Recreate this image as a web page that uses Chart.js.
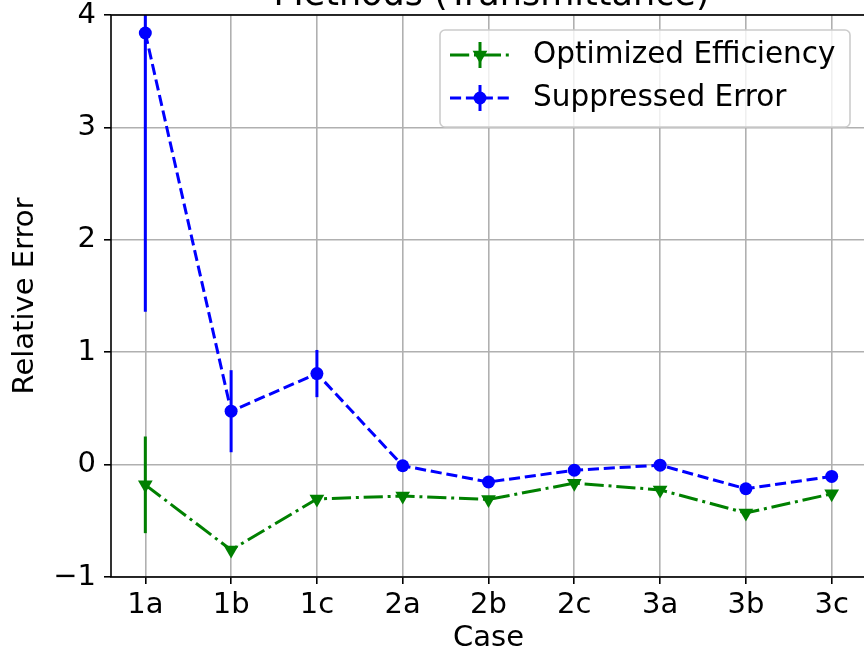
<!DOCTYPE html>
<html><head><meta charset="utf-8">
<script src="https://cdn.jsdelivr.net/npm/chart.js@4.4.1/dist/chart.umd.min.js"></script>
<style>
html,body{margin:0;padding:0;background:#fff;overflow:hidden;width:864px;height:652px;}
#wrap{position:absolute;left:0;top:-40px;width:900px;height:700px;}
canvas{display:block;}
</style></head><body>
<div id="wrap"><canvas id="c" width="900" height="700"></canvas></div>
<script>
const titleText = 'Methods (Transmittance)';
const xLabel = 'Case';
const yLabel = 'Relative Error';
const categories = ['1a','1b','1c','2a','2b','2c','3a','3b','3c'];
const optimizedEfficiency = [-0.18, -0.76, -0.305, -0.28, -0.31, -0.165, -0.225, -0.43, -0.26];
const optimizedErr = [0.43, 0, 0, 0, 0, 0, 0, 0, 0];
const suppressedError = [3.84, 0.475, 0.81, -0.01, -0.155, -0.05, -0.005, -0.215, -0.105];
const suppressedErr = [2.48, 0.365, 0.21, 0, 0, 0, 0, 0, 0];
const yTicks = [-1, 0, 1, 2, 3, 4];
const seriesNames = ['Optimized Efficiency', 'Suppressed Error'];

const FONT = '"DejaVu Sans", sans-serif';
const GREEN = '#008000', BLUE = '#0000ff';
const DASHDOT = [19.2, 4.8, 3, 4.8], DASHED = [11.1, 4.8];

const overlay = {
  id: 'overlay',
  beforeDatasetsDraw(chart) {
    const ctx = chart.ctx, a = chart.chartArea;
    const xs = chart.scales.x, ys = chart.scales.y;
    ctx.save();
    ctx.beginPath(); ctx.rect(a.left, a.top, a.right - a.left, a.bottom - a.top); ctx.clip();
    chart.data.datasets.forEach(ds => {
      ctx.strokeStyle = ds.borderColor; ctx.lineWidth = 3; ctx.setLineDash([]);
      ds.data.forEach((p, j) => {
        const e = ds.err[j];
        if (!e) return;
        const x = xs.getPixelForValue(p.x);
        ctx.beginPath();
        ctx.moveTo(x, ys.getPixelForValue(p.y - e));
        ctx.lineTo(x, ys.getPixelForValue(p.y + e));
        ctx.stroke();
      });
    });
    ctx.restore();
  },
  afterDraw(chart) {
    const ctx = chart.ctx, a = chart.chartArea;
    ctx.save();
    // frame
    ctx.strokeStyle = '#000'; ctx.lineWidth = 1.6; ctx.setLineDash([]);
    ctx.strokeRect(a.left, a.top, a.right - a.left, a.bottom - a.top);
    // title
    ctx.fillStyle = '#000'; ctx.font = '35px ' + FONT; ctx.textAlign = 'center'; ctx.textBaseline = 'alphabetic';
    ctx.fillText(titleText, (a.left + a.right) / 2 + 3, 45);
    // legend
    const bx = 440, by = 70, bw = 410, bh = 97, r = 5;
    ctx.fillStyle = 'rgba(255,255,255,0.8)'; ctx.strokeStyle = '#cccccc'; ctx.lineWidth = 1.6;
    ctx.beginPath();
    ctx.moveTo(bx + r, by); ctx.lineTo(bx + bw - r, by); ctx.arcTo(bx + bw, by, bx + bw, by + r, r);
    ctx.lineTo(bx + bw, by + bh - r); ctx.arcTo(bx + bw, by + bh, bx + bw - r, by + bh, r);
    ctx.lineTo(bx + r, by + bh); ctx.arcTo(bx, by + bh, bx, by + bh - r, r);
    ctx.lineTo(bx, by + r); ctx.arcTo(bx, by, bx + r, by, r); ctx.closePath();
    ctx.fill(); ctx.stroke();
    const rows = [
      {name: seriesNames[0], color: GREEN, dash: DASHDOT, marker: 'tri', y: 95},
      {name: seriesNames[1], color: BLUE, dash: DASHED, marker: 'circ', y: 138}
    ];
    rows.forEach(rw => {
      ctx.strokeStyle = rw.color; ctx.fillStyle = rw.color; ctx.lineWidth = 3;
      ctx.setLineDash(rw.dash);
      ctx.beginPath(); ctx.moveTo(450, rw.y); ctx.lineTo(510, rw.y); ctx.stroke();
      ctx.setLineDash([]);
      ctx.beginPath(); ctx.moveTo(480, rw.y - 13); ctx.lineTo(480, rw.y + 13); ctx.stroke();
      ctx.beginPath();
      if (rw.marker === 'circ') { ctx.arc(480, rw.y, 6.5, 0, Math.PI * 2); }
      else { const R = 8.5; ctx.moveTo(480, rw.y + R); ctx.lineTo(480 - R * 0.866, rw.y - R / 2); ctx.lineTo(480 + R * 0.866, rw.y - R / 2); ctx.closePath(); }
      ctx.fill();
      ctx.fillStyle = '#000'; ctx.font = '29.5px ' + FONT; ctx.textAlign = 'left'; ctx.textBaseline = 'middle';
      ctx.fillText(rw.name, 533, rw.y);
    });
    ctx.restore();
  }
};

const ctx = document.getElementById('c').getContext('2d');
new Chart(ctx, {
  type: 'line',
  data: {
    datasets: [
      {label: seriesNames[0], data: optimizedEfficiency.map((v, i) => ({x: i, y: v})), err: optimizedErr,
       borderColor: GREEN, backgroundColor: GREEN, pointBackgroundColor: GREEN, pointBorderColor: GREEN,
       borderWidth: 3, borderDash: DASHDOT, pointStyle: 'triangle', rotation: 180, pointRadius: 8.5,
       pointBorderWidth: 0, order: 2, fill: false, tension: 0},
      {label: seriesNames[1], data: suppressedError.map((v, i) => ({x: i, y: v})), err: suppressedErr,
       borderColor: BLUE, backgroundColor: BLUE, pointBackgroundColor: BLUE, pointBorderColor: BLUE,
       borderWidth: 3, borderDash: DASHED, pointStyle: 'circle', pointRadius: 6.5,
       pointBorderWidth: 0, order: 1, fill: false, tension: 0}
    ]
  },
  options: {
    responsive: false, animation: false, devicePixelRatio: 1,
    layout: {padding: {top: 55, right: 34, left: 0, bottom: 0}},
    plugins: {legend: {display: false}, title: {display: false}, tooltip: {enabled: false}},
    scales: {
      x: {
        type: 'linear', min: -0.4, max: 8.4,
        afterBuildTicks: s => { s.ticks = categories.map((c, i) => ({value: i})); },
        afterFit: s => { s.height = 83; },
        ticks: {callback: v => categories[v], font: {family: FONT, size: 29}, color: '#000', padding: 4, maxRotation: 0, autoSkip: false},
        grid: {color: '#b0b0b0', lineWidth: 1.6, tickColor: '#000', tickLength: 7, tickWidth: 1.6},
        border: {display: false},
        title: {display: true, text: xLabel, font: {family: FONT, size: 29}, color: '#000', padding: {top: 0, bottom: 4.6}}
      },
      y: {
        min: -1, max: 4,
        afterBuildTicks: s => { s.ticks = yTicks.map(v => ({value: v})); },
        afterFit: s => { s.width = 111; },
        ticks: {callback: v => String(v).replace('-', '\u2212'), font: {family: FONT, size: 29}, color: '#000', padding: 8},
        grid: {color: '#b0b0b0', lineWidth: 1.6, tickColor: '#000', tickLength: 7, tickWidth: 1.6},
        border: {display: false},
        title: {display: true, text: yLabel, font: {family: FONT, size: 29}, color: '#000', padding: {top: 7.6, bottom: 0}}
      }
    }
  },
  plugins: [overlay]
});
</script>
</body></html>
